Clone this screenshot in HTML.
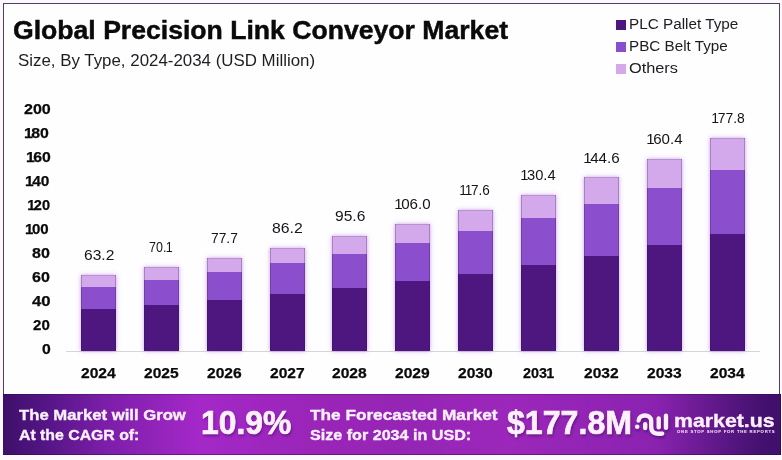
<!DOCTYPE html>
<html><head><meta charset="utf-8"><style>
html,body{margin:0;padding:0;}
body{width:782px;height:460px;position:relative;overflow:hidden;background:#fdf8fd;font-family:"Liberation Sans",sans-serif;}
.frame{position:absolute;left:3px;top:3px;width:775px;height:450px;border:1px solid #4e4060;background:#fefdff;box-sizing:content-box;}
.t{position:absolute;white-space:nowrap;line-height:1;}
.bar{position:absolute;}
.banner{position:absolute;left:3px;top:394px;width:778px;height:61px;box-shadow:inset 0 1px 0 rgba(30,5,50,0.25),inset 0 -1px 0 rgba(40,10,60,0.45),inset -1px 0 0 rgba(30,5,50,0.4);
 background:linear-gradient(90deg,#3e0f6a 0%,#561688 6%,#7b1ea8 13%,#a428c8 25%,#9a25b8 40%,#9525b5 52%,#9c27bb 65%,#8a22b0 84%,#5e1888 92%,#42106e 98%,#40106c 100%);}
</style></head><body>
<div class="frame"></div>
<div class="bar" style="left:616px;top:20px;width:10px;height:10px;background:#4e1780"></div>
<div class="bar" style="left:616px;top:42px;width:10px;height:10px;background:#8b4fce"></div>
<div class="bar" style="left:616px;top:64px;width:10px;height:10px;background:#d3a9eb"></div>
<div class="bar" style="left:66px;top:351px;width:694px;height:1px;background:#d6d6d6"></div>
<div class="bar" style="left:81.00px;top:275.16px;width:35.0px;height:75.84px;box-shadow:0 0 4px rgba(165,100,205,0.6)"></div>
<div class="bar" style="left:81.00px;top:275.16px;width:35.0px;height:11.60px;background:#d3a9eb"></div>
<div class="bar" style="left:81.00px;top:286.76px;width:35.0px;height:22.60px;background:#8b4fce"></div>
<div class="bar" style="left:81.00px;top:309.36px;width:35.0px;height:41.64px;background:#4e1780"></div>
<div class="bar" style="left:81.00px;top:275.16px;width:35.0px;height:75.84px;box-shadow:inset 1px 0 0 rgba(40,10,70,0.25),inset -1px 0 0 rgba(40,10,70,0.25),inset 0 1px 0 rgba(40,10,70,0.15)"></div>
<div class="bar" style="left:144.00px;top:266.88px;width:35.0px;height:84.12px;box-shadow:0 0 4px rgba(165,100,205,0.6)"></div>
<div class="bar" style="left:144.00px;top:266.88px;width:35.0px;height:12.87px;background:#d3a9eb"></div>
<div class="bar" style="left:144.00px;top:279.75px;width:35.0px;height:25.07px;background:#8b4fce"></div>
<div class="bar" style="left:144.00px;top:304.82px;width:35.0px;height:46.18px;background:#4e1780"></div>
<div class="bar" style="left:144.00px;top:266.88px;width:35.0px;height:84.12px;box-shadow:inset 1px 0 0 rgba(40,10,70,0.25),inset -1px 0 0 rgba(40,10,70,0.25),inset 0 1px 0 rgba(40,10,70,0.15)"></div>
<div class="bar" style="left:207.00px;top:257.76px;width:35.0px;height:93.24px;box-shadow:0 0 4px rgba(165,100,205,0.6)"></div>
<div class="bar" style="left:207.00px;top:257.76px;width:35.0px;height:14.27px;background:#d3a9eb"></div>
<div class="bar" style="left:207.00px;top:272.03px;width:35.0px;height:27.79px;background:#8b4fce"></div>
<div class="bar" style="left:207.00px;top:299.81px;width:35.0px;height:51.19px;background:#4e1780"></div>
<div class="bar" style="left:207.00px;top:257.76px;width:35.0px;height:93.24px;box-shadow:inset 1px 0 0 rgba(40,10,70,0.25),inset -1px 0 0 rgba(40,10,70,0.25),inset 0 1px 0 rgba(40,10,70,0.15)"></div>
<div class="bar" style="left:270.00px;top:247.56px;width:35.0px;height:103.44px;box-shadow:0 0 4px rgba(165,100,205,0.6)"></div>
<div class="bar" style="left:270.00px;top:247.56px;width:35.0px;height:15.83px;background:#d3a9eb"></div>
<div class="bar" style="left:270.00px;top:263.39px;width:35.0px;height:30.83px;background:#8b4fce"></div>
<div class="bar" style="left:270.00px;top:294.21px;width:35.0px;height:56.79px;background:#4e1780"></div>
<div class="bar" style="left:270.00px;top:247.56px;width:35.0px;height:103.44px;box-shadow:inset 1px 0 0 rgba(40,10,70,0.25),inset -1px 0 0 rgba(40,10,70,0.25),inset 0 1px 0 rgba(40,10,70,0.15)"></div>
<div class="bar" style="left:332.00px;top:236.28px;width:35.0px;height:114.72px;box-shadow:0 0 4px rgba(165,100,205,0.6)"></div>
<div class="bar" style="left:332.00px;top:236.28px;width:35.0px;height:17.55px;background:#d3a9eb"></div>
<div class="bar" style="left:332.00px;top:253.83px;width:35.0px;height:34.19px;background:#8b4fce"></div>
<div class="bar" style="left:332.00px;top:288.02px;width:35.0px;height:62.98px;background:#4e1780"></div>
<div class="bar" style="left:332.00px;top:236.28px;width:35.0px;height:114.72px;box-shadow:inset 1px 0 0 rgba(40,10,70,0.25),inset -1px 0 0 rgba(40,10,70,0.25),inset 0 1px 0 rgba(40,10,70,0.15)"></div>
<div class="bar" style="left:395.00px;top:223.80px;width:35.0px;height:127.20px;box-shadow:0 0 4px rgba(165,100,205,0.6)"></div>
<div class="bar" style="left:395.00px;top:223.80px;width:35.0px;height:19.46px;background:#d3a9eb"></div>
<div class="bar" style="left:395.00px;top:243.26px;width:35.0px;height:37.91px;background:#8b4fce"></div>
<div class="bar" style="left:395.00px;top:281.17px;width:35.0px;height:69.83px;background:#4e1780"></div>
<div class="bar" style="left:395.00px;top:223.80px;width:35.0px;height:127.20px;box-shadow:inset 1px 0 0 rgba(40,10,70,0.25),inset -1px 0 0 rgba(40,10,70,0.25),inset 0 1px 0 rgba(40,10,70,0.15)"></div>
<div class="bar" style="left:458.00px;top:209.88px;width:35.0px;height:141.12px;box-shadow:0 0 4px rgba(165,100,205,0.6)"></div>
<div class="bar" style="left:458.00px;top:209.88px;width:35.0px;height:21.59px;background:#d3a9eb"></div>
<div class="bar" style="left:458.00px;top:231.47px;width:35.0px;height:42.05px;background:#8b4fce"></div>
<div class="bar" style="left:458.00px;top:273.53px;width:35.0px;height:77.47px;background:#4e1780"></div>
<div class="bar" style="left:458.00px;top:209.88px;width:35.0px;height:141.12px;box-shadow:inset 1px 0 0 rgba(40,10,70,0.25),inset -1px 0 0 rgba(40,10,70,0.25),inset 0 1px 0 rgba(40,10,70,0.15)"></div>
<div class="bar" style="left:521.00px;top:194.52px;width:35.0px;height:156.48px;box-shadow:0 0 4px rgba(165,100,205,0.6)"></div>
<div class="bar" style="left:521.00px;top:194.52px;width:35.0px;height:23.94px;background:#d3a9eb"></div>
<div class="bar" style="left:521.00px;top:218.46px;width:35.0px;height:46.63px;background:#8b4fce"></div>
<div class="bar" style="left:521.00px;top:265.09px;width:35.0px;height:85.91px;background:#4e1780"></div>
<div class="bar" style="left:521.00px;top:194.52px;width:35.0px;height:156.48px;box-shadow:inset 1px 0 0 rgba(40,10,70,0.25),inset -1px 0 0 rgba(40,10,70,0.25),inset 0 1px 0 rgba(40,10,70,0.15)"></div>
<div class="bar" style="left:584.00px;top:177.48px;width:35.0px;height:173.52px;box-shadow:0 0 4px rgba(165,100,205,0.6)"></div>
<div class="bar" style="left:584.00px;top:177.48px;width:35.0px;height:26.55px;background:#d3a9eb"></div>
<div class="bar" style="left:584.00px;top:204.03px;width:35.0px;height:51.71px;background:#8b4fce"></div>
<div class="bar" style="left:584.00px;top:255.74px;width:35.0px;height:95.26px;background:#4e1780"></div>
<div class="bar" style="left:584.00px;top:177.48px;width:35.0px;height:173.52px;box-shadow:inset 1px 0 0 rgba(40,10,70,0.25),inset -1px 0 0 rgba(40,10,70,0.25),inset 0 1px 0 rgba(40,10,70,0.15)"></div>
<div class="bar" style="left:647.00px;top:158.52px;width:35.0px;height:192.48px;box-shadow:0 0 4px rgba(165,100,205,0.6)"></div>
<div class="bar" style="left:647.00px;top:158.52px;width:35.0px;height:29.45px;background:#d3a9eb"></div>
<div class="bar" style="left:647.00px;top:187.97px;width:35.0px;height:57.36px;background:#8b4fce"></div>
<div class="bar" style="left:647.00px;top:245.33px;width:35.0px;height:105.67px;background:#4e1780"></div>
<div class="bar" style="left:647.00px;top:158.52px;width:35.0px;height:192.48px;box-shadow:inset 1px 0 0 rgba(40,10,70,0.25),inset -1px 0 0 rgba(40,10,70,0.25),inset 0 1px 0 rgba(40,10,70,0.15)"></div>
<div class="bar" style="left:710.00px;top:137.64px;width:35.0px;height:213.36px;box-shadow:0 0 4px rgba(165,100,205,0.6)"></div>
<div class="bar" style="left:710.00px;top:137.64px;width:35.0px;height:32.64px;background:#d3a9eb"></div>
<div class="bar" style="left:710.00px;top:170.28px;width:35.0px;height:63.58px;background:#8b4fce"></div>
<div class="bar" style="left:710.00px;top:233.87px;width:35.0px;height:117.13px;background:#4e1780"></div>
<div class="bar" style="left:710.00px;top:137.64px;width:35.0px;height:213.36px;box-shadow:inset 1px 0 0 rgba(40,10,70,0.25),inset -1px 0 0 rgba(40,10,70,0.25),inset 0 1px 0 rgba(40,10,70,0.15)"></div>
<div class="banner"></div>
<svg style="position:absolute;left:0;top:0" width="782" height="460" viewBox="0 0 782 460">
<g style="filter:drop-shadow(1px 2px 1.5px rgba(40,0,60,0.45))">
<g fill="none" stroke="#fbeefc" stroke-width="4.4" stroke-linecap="round">
<path d="M638.6 420.5 C638.8 414.2 651 413.2 651.2 421 L651.2 427 C651.2 433.5 656.5 434.2 662.2 433.6"/>
<path d="M645.2 424.2 L645.2 428"/>
<path d="M658.7 418.5 L658.7 427.2"/>
<path d="M666 415.8 L666 427.8"/>
</g>
<circle cx="637.2" cy="426.8" r="2.3" fill="#fbeefc"/>
</g>
</svg>
<div class="t" id="title" style="left:12.754px;top:18.214px;font-size:25.145px;font-weight:bold;color:#0a0a0a;transform:scaleX(1.0584);transform-origin:0 0;-webkit-text-stroke:0.45px #0a0a0a;">Global Precision Link Conveyor Market</div>
<div class="t" id="sub" style="left:17.517px;top:52.910px;font-size:15.700px;font-weight:normal;color:#1e1e1e;transform:scaleX(1.0758);transform-origin:0 0;">Size, By Type, 2024-2034 (USD Million)</div>
<div class="t" id="leg1" style="left:629.480px;top:17.811px;font-size:13.808px;font-weight:normal;color:#1e1e1e;transform:scaleX(1.1083);transform-origin:0 0;">PLC Pallet Type</div>
<div class="t" id="leg2" style="left:629.487px;top:39.811px;font-size:13.808px;font-weight:normal;color:#1e1e1e;transform:scaleX(1.1034);transform-origin:0 0;">PBC Belt Type</div>
<div class="t" id="leg3" style="left:629.399px;top:61.811px;font-size:13.808px;font-weight:normal;color:#1e1e1e;transform:scaleX(1.1825);transform-origin:0 0;">Others</div>
<div class="t" id="y0" style="left:41.941px;top:342.177px;font-size:14.971px;font-weight:bold;color:#0a0a0a;transform:scaleX(1.0517);transform-origin:0 0;-webkit-text-stroke:0.25px #0a0a0a;">0</div>
<div class="t" id="y20" style="left:32.970px;top:318.177px;font-size:14.971px;font-weight:bold;color:#0a0a0a;transform:scaleX(1.0073);transform-origin:0 0;-webkit-text-stroke:0.25px #0a0a0a;">20</div>
<div class="t" id="y40" style="left:31.743px;top:294.177px;font-size:14.971px;font-weight:bold;color:#0a0a0a;transform:scaleX(1.1140);transform-origin:0 0;-webkit-text-stroke:0.25px #0a0a0a;">40</div>
<div class="t" id="y60" style="left:32.000px;top:270.177px;font-size:14.971px;font-weight:bold;color:#0a0a0a;transform:scaleX(1.0698);transform-origin:0 0;-webkit-text-stroke:0.25px #0a0a0a;">60</div>
<div class="t" id="y80" style="left:32.000px;top:246.177px;font-size:14.971px;font-weight:bold;color:#0a0a0a;transform:scaleX(1.0698);transform-origin:0 0;-webkit-text-stroke:0.25px #0a0a0a;">80</div>
<div class="t" id="y100" style="left:26.000px;top:222.177px;font-size:14.971px;font-weight:bold;color:#0a0a0a;transform:scaleX(1.0050);transform-origin:0 0;-webkit-text-stroke:0.25px #0a0a0a;"><span style="margin-left:-0.06em;margin-right:-0.1em">1</span>00</div>
<div class="t" id="y120" style="left:27.606px;top:198.177px;font-size:14.971px;font-weight:bold;color:#0a0a0a;transform:scaleX(0.9730);transform-origin:0 0;-webkit-text-stroke:0.25px #0a0a0a;"><span style="margin-left:-0.06em;margin-right:-0.1em">1</span>20</div>
<div class="t" id="y140" style="left:26.192px;top:174.177px;font-size:14.971px;font-weight:bold;color:#0a0a0a;transform:scaleX(1.0319);transform-origin:0 0;-webkit-text-stroke:0.25px #0a0a0a;"><span style="margin-left:-0.06em;margin-right:-0.1em">1</span>40</div>
<div class="t" id="y160" style="left:26.821px;top:150.177px;font-size:14.971px;font-weight:bold;color:#0a0a0a;transform:scaleX(1.0531);transform-origin:0 0;-webkit-text-stroke:0.25px #0a0a0a;"><span style="margin-left:-0.06em;margin-right:-0.1em">1</span>60</div>
<div class="t" id="y180" style="left:24.843px;top:126.177px;font-size:14.971px;font-weight:bold;color:#0a0a0a;transform:scaleX(1.0584);transform-origin:0 0;-webkit-text-stroke:0.25px #0a0a0a;"><span style="margin-left:-0.06em;margin-right:-0.1em">1</span>80</div>
<div class="t" id="y200" style="left:23.537px;top:102.177px;font-size:14.971px;font-weight:bold;color:#0a0a0a;transform:scaleX(1.0728);transform-origin:0 0;-webkit-text-stroke:0.25px #0a0a0a;">200</div>
<div class="t" id="v0" style="left:83.567px;top:248.187px;font-size:14.971px;font-weight:normal;color:#151515;transform:scaleX(1.0397);transform-origin:0 0;">63.2</div>
<div class="t" id="yr0" style="left:81.405px;top:365.827px;font-size:14.971px;font-weight:bold;color:#0a0a0a;transform:scaleX(1.0416);transform-origin:0 0;-webkit-text-stroke:0.25px #0a0a0a;">2024</div>
<div class="t" id="v1" style="left:149.119px;top:239.907px;font-size:14.971px;font-weight:normal;color:#151515;transform:scaleX(0.8337);transform-origin:0 0;">70.<span style="margin-left:-0.05em;margin-right:-0.1em">1</span></div>
<div class="t" id="yr1" style="left:144.402px;top:365.827px;font-size:14.971px;font-weight:bold;color:#0a0a0a;transform:scaleX(1.0425);transform-origin:0 0;-webkit-text-stroke:0.25px #0a0a0a;">2025</div>
<div class="t" id="v2" style="left:210.826px;top:230.787px;font-size:14.971px;font-weight:normal;color:#151515;transform:scaleX(0.9218);transform-origin:0 0;">77.7</div>
<div class="t" id="yr2" style="left:207.402px;top:365.827px;font-size:14.971px;font-weight:bold;color:#0a0a0a;transform:scaleX(1.0425);transform-origin:0 0;-webkit-text-stroke:0.25px #0a0a0a;">2026</div>
<div class="t" id="v3" style="left:271.991px;top:220.587px;font-size:14.971px;font-weight:normal;color:#151515;transform:scaleX(1.0539);transform-origin:0 0;">86.2</div>
<div class="t" id="yr3" style="left:270.402px;top:365.827px;font-size:14.971px;font-weight:bold;color:#0a0a0a;transform:scaleX(1.0425);transform-origin:0 0;-webkit-text-stroke:0.25px #0a0a0a;">2027</div>
<div class="t" id="v4" style="left:334.567px;top:209.307px;font-size:14.971px;font-weight:normal;color:#151515;transform:scaleX(1.0397);transform-origin:0 0;">95.6</div>
<div class="t" id="yr4" style="left:332.402px;top:365.827px;font-size:14.971px;font-weight:bold;color:#0a0a0a;transform:scaleX(1.0425);transform-origin:0 0;-webkit-text-stroke:0.25px #0a0a0a;">2028</div>
<div class="t" id="v5" style="left:395.405px;top:196.827px;font-size:14.971px;font-weight:normal;color:#151515;transform:scaleX(1.0119);transform-origin:0 0;"><span style="margin-left:-0.05em;margin-right:-0.1em">1</span>06.0</div>
<div class="t" id="yr5" style="left:395.402px;top:365.827px;font-size:14.971px;font-weight:bold;color:#0a0a0a;transform:scaleX(1.0425);transform-origin:0 0;-webkit-text-stroke:0.25px #0a0a0a;">2029</div>
<div class="t" id="v6" style="left:460.416px;top:182.907px;font-size:14.971px;font-weight:normal;color:#151515;transform:scaleX(0.9035);transform-origin:0 0;"><span style="margin-left:-0.05em;margin-right:-0.1em">1</span><span style="margin-left:-0.05em;margin-right:-0.1em">1</span>7.6</div>
<div class="t" id="yr6" style="left:458.402px;top:365.827px;font-size:14.971px;font-weight:bold;color:#0a0a0a;transform:scaleX(1.0425);transform-origin:0 0;-webkit-text-stroke:0.25px #0a0a0a;">2030</div>
<div class="t" id="v7" style="left:521.396px;top:167.547px;font-size:14.971px;font-weight:normal;color:#151515;transform:scaleX(0.9830);transform-origin:0 0;"><span style="margin-left:-0.05em;margin-right:-0.1em">1</span>30.4</div>
<div class="t" id="yr7" style="left:522.602px;top:365.827px;font-size:14.971px;font-weight:bold;color:#0a0a0a;transform:scaleX(0.9577);transform-origin:0 0;-webkit-text-stroke:0.25px #0a0a0a;">203<span style="margin-left:-0.05em;margin-right:-0.1em">1</span></div>
<div class="t" id="v8" style="left:584.405px;top:150.507px;font-size:14.971px;font-weight:normal;color:#151515;transform:scaleX(1.0119);transform-origin:0 0;"><span style="margin-left:-0.05em;margin-right:-0.1em">1</span>44.6</div>
<div class="t" id="yr8" style="left:584.402px;top:365.827px;font-size:14.971px;font-weight:bold;color:#0a0a0a;transform:scaleX(1.0425);transform-origin:0 0;-webkit-text-stroke:0.25px #0a0a0a;">2032</div>
<div class="t" id="v9" style="left:646.800px;top:131.547px;font-size:14.971px;font-weight:normal;color:#151515;transform:scaleX(1.0087);transform-origin:0 0;"><span style="margin-left:-0.05em;margin-right:-0.1em">1</span>60.4</div>
<div class="t" id="yr9" style="left:647.402px;top:365.827px;font-size:14.971px;font-weight:bold;color:#0a0a0a;transform:scaleX(1.0425);transform-origin:0 0;-webkit-text-stroke:0.25px #0a0a0a;">2033</div>
<div class="t" id="v10" style="left:711.637px;top:110.667px;font-size:14.971px;font-weight:normal;color:#151515;transform:scaleX(0.9299);transform-origin:0 0;"><span style="margin-left:-0.05em;margin-right:-0.1em">1</span>77.8</div>
<div class="t" id="yr10" style="left:710.405px;top:365.827px;font-size:14.971px;font-weight:bold;color:#0a0a0a;transform:scaleX(1.0416);transform-origin:0 0;-webkit-text-stroke:0.25px #0a0a0a;">2034</div>
<div class="t" id="b1" style="left:18.639px;top:407.104px;font-size:15.116px;font-weight:bold;color:#fdf0fd;transform:scaleX(1.1040);transform-origin:0 0;-webkit-text-stroke:0.35px #fdf0fd;">The Market will Grow</div>
<div class="t" id="b2" style="left:18.570px;top:426.504px;font-size:15.116px;font-weight:bold;color:#fdf0fd;transform:scaleX(1.0470);transform-origin:0 0;-webkit-text-stroke:0.35px #fdf0fd;">At the CAGR of:</div>
<div class="t" id="pct" style="left:200.674px;top:406.301px;font-size:33.430px;font-weight:bold;color:#fdf0fd;transform:scaleX(0.9528);transform-origin:0 0;text-shadow:1px 2px 3px rgba(40,0,60,0.45);-webkit-text-stroke:0.7px #fdf0fd;">10.9%</div>
<div class="t" id="f1" style="left:309.828px;top:407.104px;font-size:15.116px;font-weight:bold;color:#fdf0fd;transform:scaleX(1.1394);transform-origin:0 0;-webkit-text-stroke:0.35px #fdf0fd;">The Forecasted Market</div>
<div class="t" id="f2" style="left:309.734px;top:426.504px;font-size:15.116px;font-weight:bold;color:#fdf0fd;transform:scaleX(1.0665);transform-origin:0 0;-webkit-text-stroke:0.35px #fdf0fd;">Size for 2034 in USD:</div>
<div class="t" id="usd" style="left:507.205px;top:406.278px;font-size:33.576px;font-weight:bold;color:#fdf0fd;transform:scaleX(0.9574);transform-origin:0 0;text-shadow:1px 2px 3px rgba(40,0,60,0.45);-webkit-text-stroke:0.7px #fdf0fd;">$177.8M</div>
<div class="t" id="mkt" style="left:674.497px;top:411.540px;font-size:18.500px;font-weight:bold;color:#fdf0fd;transform:scaleX(1.1511);transform-origin:0 0;-webkit-text-stroke:0.35px #fdf0fd;">market.us</div>
<div class="t" id="tag" style="left:676.614px;top:430.275px;font-size:4.400px;font-weight:bold;color:#f4e0f8;transform:scaleX(0.9680);transform-origin:0 0;letter-spacing:0.78px;-webkit-text-stroke:0.05px #f4e0f8;">ONE STOP SHOP FOR THE REPORTS</div>
</body></html>
